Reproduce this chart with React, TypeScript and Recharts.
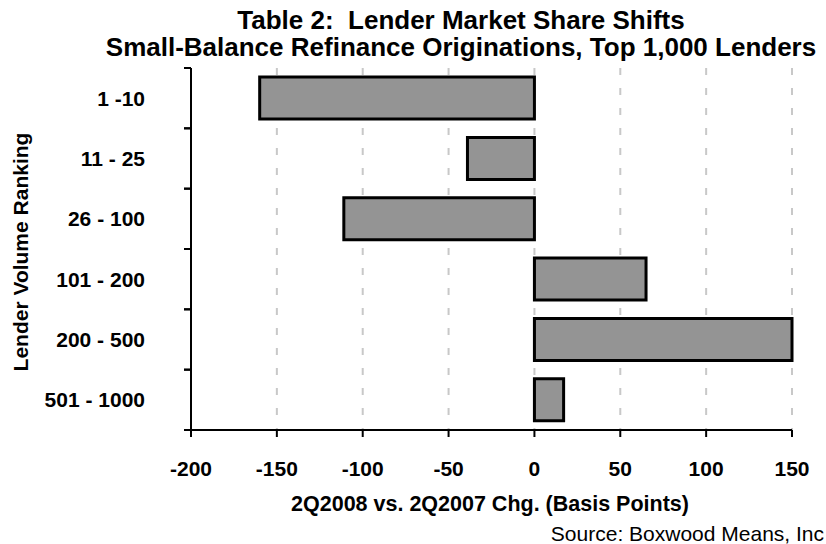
import React from 'react';
import { BarChart, Bar, XAxis, YAxis, CartesianGrid } from 'recharts';

const rankings = ['1 -10', '11 - 25', '26 - 100', '101 - 200', '200 - 500', '501 - 1000'];
const shareChange = [-160, -39, -111, 65, 150, 17];
const xTicks = [-200, -150, -100, -50, 0, 50, 100, 150];

const data = rankings.map((name, i) => ({ name, value: shareChange[i] }));

const FONT = '"Liberation Sans", Arial, sans-serif';
const PLOT_TOP = 68;
const PLOT_BOTTOM = 430;
const AXIS_X = 191;
const BAND = (PLOT_BOTTOM - PLOT_TOP) / rankings.length;

const RankTick = (props: any) => {
    const { y, payload } = props;
    return (
        <g>
            <line x1={AXIS_X - 7} x2={AXIS_X} y1={y - BAND / 2} y2={y - BAND / 2} stroke="#000" strokeWidth={2} />
            <line x1={AXIS_X - 7} x2={AXIS_X} y1={y + BAND / 2} y2={y + BAND / 2} stroke="#000" strokeWidth={2} />
            <text x={145} y={y} dy="0.36em" textAnchor="end" fontFamily={FONT} fontWeight="bold" fontSize={21} fill="#000">
                {payload.value}
            </text>
        </g>
    );
};

const textBase: React.CSSProperties = {
    position: 'absolute',
    fontFamily: FONT,
    color: '#000',
    whiteSpace: 'pre',
    lineHeight: 1,
};

export default function App() {
    return (
        <div style={{ position: 'absolute', left: 0, top: 0, width: 826, height: 544, background: '#fff', overflow: 'hidden' }}>
            <BarChart
                width={826}
                height={544}
                data={data}
                layout="vertical"
                margin={{ top: PLOT_TOP, right: 34, bottom: 84, left: 0 }}
                barCategoryGap="15%"
            >
                <CartesianGrid horizontal={false} stroke="#c8c8c8" strokeWidth={2} strokeDasharray="7 13" />
                <XAxis
                    type="number"
                    domain={[-200, 150]}
                    ticks={xTicks}
                    interval={0}
                    height={30}
                    tickSize={7}
                    tickMargin={24}
                    axisLine={{ stroke: '#000', strokeWidth: 2 }}
                    tickLine={{ stroke: '#000', strokeWidth: 2 }}
                    tick={{ fill: '#000', fontSize: 21, fontWeight: 'bold', fontFamily: FONT }}
                />
                <YAxis
                    type="category"
                    dataKey="name"
                    width={AXIS_X}
                    tickLine={false}
                    tickSize={0}
                    axisLine={{ stroke: '#000', strokeWidth: 2 }}
                    tick={<RankTick />}
                />
                <Bar dataKey="value" fill="#949494" stroke="#000" strokeWidth={3} isAnimationActive={false} />
            </BarChart>

            <div style={{ ...textBase, left: 0, width: 922, top: 7, textAlign: 'center', fontSize: 26, fontWeight: 'bold' }}>
                {'Table 2:  Lender Market Share Shifts'}
            </div>
            <div style={{ ...textBase, left: 0, width: 922, top: 34, textAlign: 'center', fontSize: 26, fontWeight: 'bold' }}>
                Small-Balance Refinance Originations, Top 1,000 Lenders
            </div>
            <div
                style={{
                    ...textBase,
                    left: 20,
                    top: 252,
                    fontSize: 21,
                    fontWeight: 'bold',
                    transform: 'translate(-50%, -50%) rotate(-90deg)',
                }}
            >
                Lender Volume Ranking
            </div>
            <div style={{ ...textBase, left: 0, width: 980, top: 494, textAlign: 'center', fontSize: 21.5, fontWeight: 'bold' }}>
                2Q2008 vs. 2Q2007 Chg. (Basis Points)
            </div>
            <div style={{ ...textBase, right: 2, top: 523, fontSize: 21 }}>Source: Boxwood Means, Inc</div>
        </div>
    );
}
